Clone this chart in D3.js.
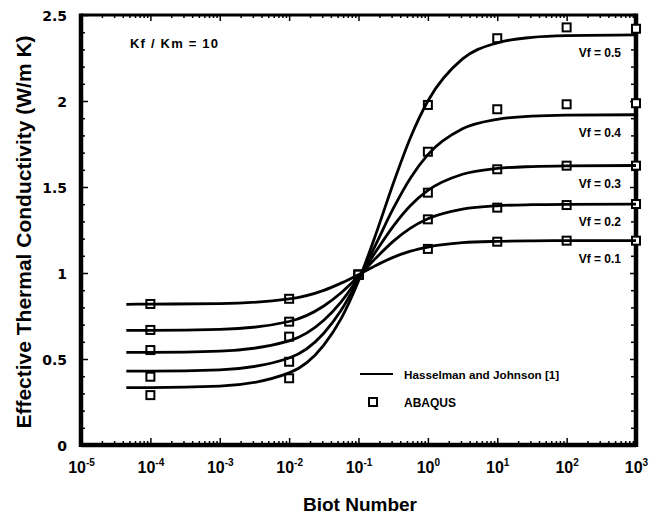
<!DOCTYPE html>
<html>
<head>
<meta charset="utf-8">
<script src="https://cdn.jsdelivr.net/npm/d3@7/dist/d3.min.js"></script>
<style>
    body { margin: 0; background: #fff; }
    text { font-family: "Liberation Sans", Arial, sans-serif; font-weight: bold; fill: #000; }
</style>
</head>
<body>
<svg id="chart"></svg>
<script>
// Hasselman and Johnson curves
var biotCurve = [4.5e-5, 1e-4, 1e-3, 1e-2, 0.0316, 0.0562, 0.1, 0.178, 0.316, 0.562, 1, 3.16, 10, 31.6, 100, 1000];
var hj01 = [0.818, 0.819, 0.822, 0.849, 0.899, 0.941, 0.990, 1.044, 1.091, 1.127, 1.151, 1.176, 1.184, 1.187, 1.188, 1.188];
var hj02 = [0.667, 0.667, 0.672, 0.718, 0.808, 0.885, 0.981, 1.087, 1.184, 1.261, 1.315, 1.371, 1.391, 1.397, 1.399, 1.400];
var hj03 = [0.539, 0.539, 0.546, 0.605, 0.725, 0.832, 0.972, 1.125, 1.271, 1.392, 1.480, 1.574, 1.608, 1.619, 1.623, 1.625];
var hj04 = [0.429, 0.429, 0.437, 0.506, 0.650, 0.783, 0.963, 1.167, 1.374, 1.553, 1.688, 1.838, 1.893, 1.912, 1.918, 1.920];
var hj05 = [0.334, 0.334, 0.342, 0.419, 0.581, 0.735, 0.954, 1.226, 1.519, 1.788, 2.000, 2.245, 2.338, 2.370, 2.380, 2.384];

// ABAQUS points
var biotAbaqus = [1e-4, 1e-2, 1e-1, 1, 10, 100, 1000];
var abaqus01 = [0.820, 0.850, 0.990, 1.140, 1.182, 1.188, 1.188];
var abaqus02 = [0.669, 0.717, 0.990, 1.312, 1.380, 1.395, 1.401];
var abaqus03 = [0.552, 0.630, 0.990, 1.467, 1.603, 1.624, 1.624];
var abaqus04 = [0.397, 0.484, 0.990, 1.705, 1.952, 1.981, 1.987];
var abaqus05 = [0.290, 0.388, 0.990, 1.977, 2.365, 2.428, 2.420];

var vfLabels = ['Vf = 0.1', 'Vf = 0.2', 'Vf = 0.3', 'Vf = 0.4', 'Vf = 0.5'];
var yTicks = [0, 0.5, 1, 1.5, 2, 2.5];
var xExponents = [-5, -4, -3, -2, -1, 0, 1, 2, 3];

var curves = [hj01, hj02, hj03, hj04, hj05];
var abaqus = [abaqus01, abaqus02, abaqus03, abaqus04, abaqus05];

var WIDTH = 659, HEIGHT = 516;
var MARGIN = { LEFT: 81, RIGHT: 23, TOP: 15, BOTTOM: 71 };

var svg = d3.select('#chart')
    .attr('width', WIDTH)
    .attr('height', HEIGHT);

var x = d3.scaleLog()
    .domain([1e-5, 1e3])
    .range([MARGIN.LEFT, WIDTH - MARGIN.RIGHT]);
var y = d3.scaleLinear()
    .domain([0, 2.5])
    .range([HEIGHT - MARGIN.BOTTOM, MARGIN.TOP]);

var x0 = x.range()[0], x1 = x.range()[1], y0 = y.range()[0], y1 = y.range()[1];

var decades = xExponents.map(function (e) { return Math.pow(10, e); });
var minorX = [];
decades.slice(0, -1).forEach(function (d) {
    for (var k = 2; k < 10; k++) minorX.push(d * k);
});
var minorY = d3.range(0, 26).map(function (i) { return i / 10; })
    .filter(function (v) { return Math.abs(v * 2 - Math.round(v * 2)) > 1e-6; });

// minor ticks
function minor(axis, vals, size) {
    return axis.tickValues(vals).tickSize(size).tickFormat('');
}
svg.append('g').attr('transform', 'translate(0,' + y0 + ')')
    .call(minor(d3.axisBottom(x), minorX, -4));
svg.append('g').attr('transform', 'translate(0,' + y1 + ')')
    .call(minor(d3.axisTop(x), minorX, -3));
svg.append('g').attr('transform', 'translate(' + x0 + ',0)')
    .call(minor(d3.axisLeft(y), minorY, -4));
svg.append('g').attr('transform', 'translate(' + x1 + ',0)')
    .call(minor(d3.axisRight(y), minorY, -5));
svg.append('g').attr('transform', 'translate(0,' + y1 + ')')
    .call(minor(d3.axisTop(x), decades, -6));
svg.append('g').attr('transform', 'translate(' + x1 + ',0)')
    .call(minor(d3.axisRight(y), yTicks, -6));

// y axis with labels
svg.append('g')
    .attr('class', 'y-axis')
    .attr('transform', 'translate(' + x0 + ',0)')
    .call(d3.axisLeft(y).tickValues(yTicks).tickSize(-7).tickPadding(14)
        .tickFormat(function (d) { return String(d); }))
    .call(function (g) {
        g.selectAll('text')
            .style('font-family', '"DejaVu Sans", sans-serif')
            .style('font-size', '14px')
            .attr('dy', '0.36em');
    });

// x axis with 10^n labels
svg.append('g')
    .attr('class', 'x-axis')
    .attr('transform', 'translate(0,' + y0 + ')')
    .call(d3.axisBottom(x).tickValues(decades).tickSize(-7).tickFormat(''))
    .call(function (g) {
        g.selectAll('.tick').each(function (d, i) {
            var t = d3.select(this).append('text')
                .attr('y', 28)
                .attr('text-anchor', 'middle')
                .style('font-size', '16px');
            t.append('tspan').text('10');
            t.append('tspan')
                .attr('dy', -7)
                .style('font-size', '10px')
                .text(xExponents[i]);
        });
    });

svg.selectAll('.domain').remove();
svg.selectAll('.tick line').attr('stroke', '#000').attr('stroke-width', 1.5);

// frame
var frame = [
    { a: [x0, y0], b: [x1, y0], w: 4.5 },
    { a: [x0, y1], b: [x1, y1], w: 3 },
    { a: [x0, y1 - 1.5], b: [x0, y0 + 2], w: 4.5 },
    { a: [x1, y1 - 1.5], b: [x1, y0 + 2], w: 4.5 }
];
svg.selectAll('line.frame').data(frame).enter()
    .append('line')
    .attr('class', 'frame')
    .attr('x1', function (d) { return d.a[0]; })
    .attr('y1', function (d) { return d.a[1]; })
    .attr('x2', function (d) { return d.b[0]; })
    .attr('y2', function (d) { return d.b[1]; })
    .attr('stroke', '#000')
    .attr('stroke-width', function (d) { return d.w; });

// ABAQUS markers
var SQ = 8;
abaqus.forEach(function (series) {
    svg.append('g').selectAll('rect').data(series).enter()
        .append('rect')
        .attr('x', function (d, i) { return x(biotAbaqus[i]) - SQ / 2; })
        .attr('y', function (d) { return y(d) - SQ / 2; })
        .attr('width', SQ)
        .attr('height', SQ)
        .attr('fill', '#fff')
        .attr('stroke', '#000')
        .attr('stroke-width', 2);
});

// curves
var line = d3.line()
    .x(function (d, i) { return x(biotCurve[i]); })
    .y(function (d) { return y(d); })
    .curve(d3.curveMonotoneX);

svg.selectAll('path.hj').data(curves).enter()
    .append('path')
    .attr('class', 'hj')
    .attr('d', line)
    .attr('fill', 'none')
    .attr('stroke', '#000')
    .attr('stroke-width', 2.8);

// Vf labels under the plateau
svg.selectAll('text.vf').data(curves).enter()
    .append('text')
    .attr('class', 'vf')
    .attr('x', x1 - 15)
    .attr('y', function (d) { return y(d[d.length - 1]) + 22; })
    .attr('text-anchor', 'end')
    .style('font-size', '12px')
    .text(function (d, i) { return vfLabels[i]; });

// annotation
svg.append('text')
    .attr('x', 130)
    .attr('y', 48)
    .style('font-size', '13px')
    .attr('textLength', 88)
    .text('Kf / Km = 10');

// legend
var legend = svg.append('g').attr('transform', 'translate(360,374)');
legend.append('line')
    .attr('x1', 0).attr('x2', 33)
    .attr('stroke', '#000').attr('stroke-width', 2);
legend.append('text')
    .attr('x', 44).attr('y', 4.5)
    .style('font-size', '11.7px')
    .text('Hasselman and Johnson [1]');
legend.append('rect')
    .attr('x', 13 - SQ / 2).attr('y', 28 - SQ / 2)
    .attr('width', SQ).attr('height', SQ)
    .attr('fill', '#fff').attr('stroke', '#000').attr('stroke-width', 2);
legend.append('text')
    .attr('x', 44).attr('y', 32.5)
    .style('font-size', '12px')
    .text('ABAQUS');

// axis titles
svg.append('text')
    .attr('transform', 'translate(31,' + ((y0 + y1) / 2 + 2) + ') rotate(-90)')
    .attr('text-anchor', 'middle')
    .style('font-size', '21px')
    .text('Effective Thermal Conductivity (W/m K)');

svg.append('text')
    .attr('x', 360)
    .attr('y', 511)
    .attr('text-anchor', 'middle')
    .style('font-size', '19px')
    .text('Biot Number');
</script>
</body>
</html>
